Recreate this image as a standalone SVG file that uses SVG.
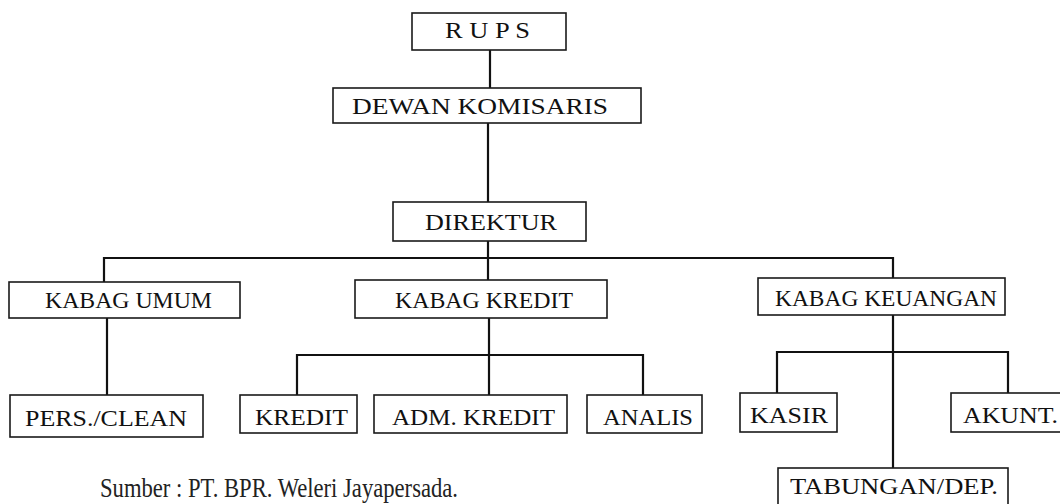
<svg xmlns="http://www.w3.org/2000/svg" width="1060" height="504" viewBox="0 0 1060 504">
<style>
.box{fill:#fff;stroke:#1a1a1a;stroke-width:1.6}
.t{font-family:"Liberation Serif","Times New Roman",serif;font-size:23px;fill:#111;text-anchor:start}
.c{fill:none;stroke:#111;stroke-width:2.2}
.src{font-family:"Liberation Serif","Times New Roman",serif;font-size:27px;fill:#222}
</style>
<rect width="1060" height="504" fill="#fff"/>
<g id="connectors">
<path class="c" d="M490 50V88"/>
<path class="c" d="M488 123V202"/>
<path class="c" d="M488 241V280"/>
<path class="c" d="M104 282V258H893V278"/>
<path class="c" d="M107 318V395"/>
<path class="c" d="M489 318V395"/>
<path class="c" d="M297 395V355H643V395"/>
<path class="c" d="M893 315V468"/>
<path class="c" d="M777 393V352H1008V393"/>
</g>
<g id="rups"><rect class="box" x="412" y="13" width="154" height="37"/><text class="t" x="445" y="38" textLength="85" lengthAdjust="spacingAndGlyphs">R U P S</text></g>
<g id="dewan"><rect class="box" x="333" y="88" width="308" height="35"/><text class="t" x="352" y="114" textLength="256" lengthAdjust="spacingAndGlyphs">DEWAN KOMISARIS</text></g>
<g id="direktur"><rect class="box" x="393" y="202" width="193" height="39"/><text class="t" x="425" y="230" textLength="132" lengthAdjust="spacingAndGlyphs">DIREKTUR</text></g>
<g id="kabag-umum"><rect class="box" x="9" y="282" width="231" height="36"/><text class="t" x="45" y="308" textLength="167" lengthAdjust="spacingAndGlyphs">KABAG UMUM</text></g>
<g id="kabag-kredit"><rect class="box" x="355" y="280" width="252" height="38"/><text class="t" x="395" y="308" textLength="178" lengthAdjust="spacingAndGlyphs">KABAG KREDIT</text></g>
<g id="kabag-keuangan"><rect class="box" x="758" y="278" width="247" height="37"/><text class="t" x="775" y="306" textLength="222" lengthAdjust="spacingAndGlyphs">KABAG KEUANGAN</text></g>
<g id="pers-clean"><rect class="box" x="10" y="395" width="193" height="42"/><text class="t" x="25" y="426" textLength="162" lengthAdjust="spacingAndGlyphs">PERS./CLEAN</text></g>
<g id="kredit"><rect class="box" x="240" y="395" width="117" height="38"/><text class="t" x="255" y="425" textLength="93" lengthAdjust="spacingAndGlyphs">KREDIT</text></g>
<g id="adm-kredit"><rect class="box" x="374" y="395" width="193" height="38"/><text class="t" x="392" y="425" textLength="163" lengthAdjust="spacingAndGlyphs">ADM. KREDIT</text></g>
<g id="analis"><rect class="box" x="587" y="395" width="115" height="38"/><text class="t" x="603" y="425" textLength="90" lengthAdjust="spacingAndGlyphs">ANALIS</text></g>
<g id="kasir"><rect class="box" x="740" y="393" width="97" height="39"/><text class="t" x="750" y="423" textLength="78" lengthAdjust="spacingAndGlyphs">KASIR</text></g>
<g id="akunt"><rect class="box" x="951" y="393" width="112" height="39"/><text class="t" x="963" y="423" textLength="95" lengthAdjust="spacingAndGlyphs">AKUNT.</text></g>
<g id="tabungan"><rect class="box" x="778" y="468" width="230" height="44"/><text class="t" x="790" y="494" textLength="208" lengthAdjust="spacingAndGlyphs">TABUNGAN/DEP.</text></g>
<text class="src" x="100" y="497" textLength="358" lengthAdjust="spacingAndGlyphs">Sumber : PT. BPR. Weleri Jayapersada.</text>
</svg>
